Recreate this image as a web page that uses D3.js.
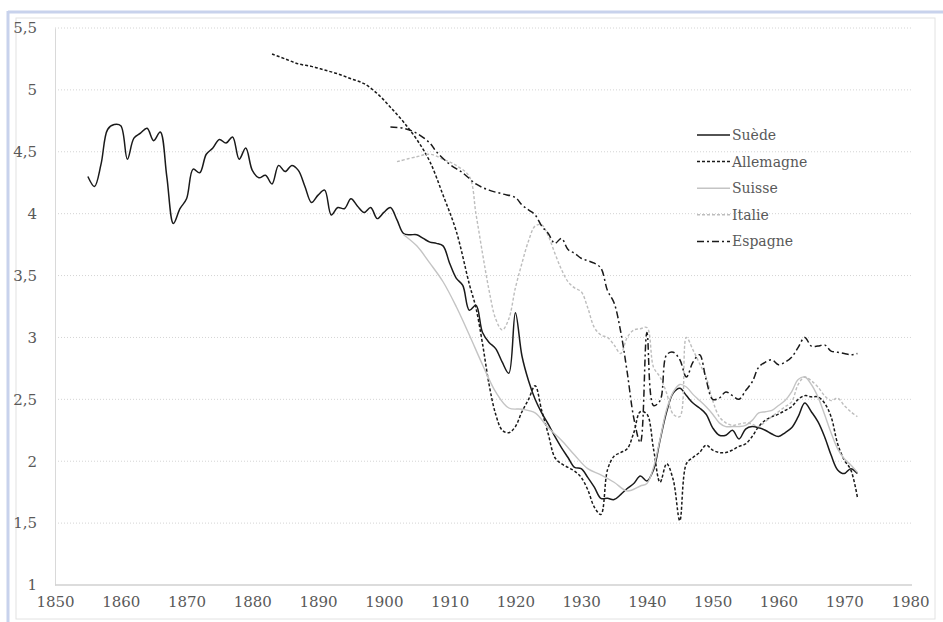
<!DOCTYPE html>
<html>
<head>
<meta charset="utf-8">
<script src="https://cdn.jsdelivr.net/npm/d3@7"></script>
<style>
  body { margin: 0; background: #fff; }
</style>
</head>
<body>
<svg></svg>
<script>
// Size of the SVG
var width = 943;
var height = 622;

// Series: [year, value]
var suede = [
  [1855,4.30],[1856,4.22],[1857,4.40],[1858,4.68],[1859,4.72],[1860,4.71],[1861,4.44],[1862,4.61],
  [1863,4.65],[1864,4.69],[1865,4.59],[1866,4.66],[1867,4.30],[1868,3.92],[1869,4.04],[1870,4.12],
  [1871,4.36],[1872,4.33],[1873,4.48],[1874,4.53],[1875,4.60],[1876,4.57],[1877,4.62],[1878,4.44],
  [1879,4.53],[1880,4.35],[1881,4.29],[1882,4.31],[1883,4.24],[1884,4.39],[1885,4.34],[1886,4.39],
  [1887,4.35],[1888,4.22],[1889,4.09],[1890,4.15],[1891,4.19],[1892,3.99],[1893,4.05],[1894,4.04],
  [1895,4.12],[1896,4.06],[1897,4.01],[1898,4.05],[1899,3.96],[1900,4.01],[1901,4.05],[1902,3.95],
  [1903,3.84],[1904,3.83],[1905,3.83],[1906,3.80],[1907,3.77],[1908,3.76],[1909,3.74],[1910,3.60],
  [1911,3.48],[1912,3.42],[1913,3.22],[1914,3.26],[1915,3.04],[1916,2.96],[1917,2.91],[1918,2.80],
  [1919,2.71],[1920,3.20],[1921,2.85],[1922,2.65],[1923,2.50],[1924,2.39],[1925,2.30],[1926,2.20],
  [1927,2.11],[1928,2.03],[1929,1.95],[1930,1.94],[1931,1.87],[1932,1.79],[1933,1.70],[1934,1.70],
  [1935,1.69],[1936,1.73],[1937,1.78],[1938,1.82],[1939,1.88],[1940,1.84],[1941,1.93],[1942,2.17],
  [1943,2.40],[1944,2.55],[1945,2.59],[1946,2.53],[1947,2.47],[1948,2.43],[1949,2.38],[1950,2.27],
  [1951,2.21],[1952,2.21],[1953,2.25],[1954,2.18],[1955,2.26],[1956,2.28],[1957,2.27],[1958,2.25],
  [1959,2.22],[1960,2.20],[1961,2.23],[1962,2.27],[1963,2.36],[1964,2.47],[1965,2.40],[1966,2.32],
  [1967,2.20],[1968,2.05],[1969,1.93],[1970,1.90],[1971,1.94],[1972,1.90]
];

var allemagne = [
  [1883,5.29],[1885,5.25],[1887,5.21],[1889,5.19],[1891,5.16],[1893,5.13],[1895,5.09],[1897,5.05],
  [1899,4.97],[1901,4.86],[1903,4.74],[1905,4.60],[1907,4.42],[1909,4.15],[1911,3.86],[1913,3.43],
  [1914,3.24],[1915,2.95],[1916,2.62],[1917,2.38],[1918,2.25],[1919,2.23],[1920,2.28],[1921,2.40],
  [1922,2.50],[1923,2.61],[1924,2.41],[1925,2.22],[1926,2.03],[1927,1.98],[1928,1.95],[1929,1.92],
  [1930,1.87],[1931,1.77],[1932,1.63],[1933,1.57],[1934,1.93],[1935,2.04],[1936,2.07],[1937,2.10],
  [1938,2.23],[1939,2.40],[1940,2.38],[1941,2.10],[1942,1.83],[1943,1.98],[1944,1.85],[1945,1.52],
  [1946,1.98],[1947,2.03],[1948,2.07],[1949,2.13],[1950,2.09],[1951,2.07],[1952,2.07],[1953,2.09],
  [1954,2.12],[1955,2.14],[1956,2.20],[1957,2.28],[1958,2.33],[1959,2.36],[1960,2.38],[1961,2.41],
  [1962,2.44],[1963,2.50],[1964,2.53],[1965,2.52],[1966,2.52],[1967,2.47],[1968,2.36],[1969,2.14],
  [1970,2.01],[1971,1.93],[1972,1.71]
];

var suisse = [
  [1903,3.83],[1905,3.74],[1907,3.60],[1909,3.45],[1911,3.25],[1913,3.02],[1915,2.78],[1917,2.56],
  [1919,2.43],[1921,2.42],[1923,2.39],[1925,2.27],[1927,2.17],[1929,2.05],[1931,1.94],[1933,1.89],
  [1935,1.83],[1937,1.76],[1939,1.80],[1940,1.82],[1941,1.95],[1942,2.18],[1943,2.42],[1944,2.56],
  [1945,2.62],[1946,2.60],[1947,2.54],[1948,2.49],[1949,2.44],[1950,2.38],[1951,2.31],[1952,2.28],
  [1953,2.28],[1954,2.28],[1955,2.29],[1956,2.33],[1957,2.39],[1958,2.40],[1959,2.41],[1960,2.45],
  [1961,2.49],[1962,2.56],[1963,2.66],[1964,2.68],[1965,2.62],[1966,2.52],[1967,2.38],[1968,2.23],
  [1969,2.10],[1970,2.02],[1971,1.97],[1972,1.91]
];

var italie = [
  [1902,4.42],[1905,4.46],[1907,4.48],[1909,4.44],[1911,4.39],[1913,4.30],[1914,4.00],[1915,3.68],
  [1916,3.38],[1917,3.15],[1918,3.06],[1919,3.15],[1920,3.40],[1921,3.60],[1922,3.78],[1923,3.90],
  [1924,3.91],[1925,3.82],[1926,3.68],[1927,3.55],[1928,3.45],[1929,3.40],[1930,3.37],[1931,3.24],
  [1932,3.08],[1933,3.02],[1934,3.00],[1935,2.94],[1936,2.87],[1937,3.00],[1938,3.06],[1939,3.07],
  [1940,3.08],[1941,2.76],[1942,2.68],[1943,2.55],[1944,2.38],[1945,2.36],[1946,3.00],[1947,2.90],
  [1948,2.79],[1949,2.68],[1950,2.49],[1951,2.36],[1952,2.31],[1953,2.29],[1954,2.30],[1955,2.31],
  [1956,2.30],[1957,2.28],[1958,2.32],[1959,2.36],[1960,2.40],[1961,2.44],[1962,2.48],[1963,2.62],
  [1964,2.68],[1965,2.65],[1966,2.60],[1967,2.53],[1968,2.49],[1969,2.51],[1970,2.45],[1971,2.40],
  [1972,2.36]
];

var espagne = [
  [1901,4.70],[1903,4.69],[1905,4.65],[1907,4.57],[1908,4.50],[1910,4.40],[1912,4.33],[1914,4.24],
  [1916,4.19],[1918,4.16],[1920,4.13],[1921,4.07],[1922,4.03],[1923,3.99],[1924,3.90],[1925,3.84],
  [1926,3.76],[1927,3.80],[1928,3.71],[1929,3.68],[1930,3.64],[1931,3.62],[1932,3.60],[1933,3.56],
  [1934,3.38],[1935,3.28],[1936,3.05],[1937,2.72],[1938,2.35],[1939,2.15],[1940,3.04],[1941,2.45],
  [1942,2.49],[1943,2.86],[1944,2.88],[1945,2.82],[1946,2.68],[1947,2.80],[1948,2.86],[1949,2.66],
  [1950,2.50],[1951,2.51],[1952,2.56],[1953,2.53],[1954,2.50],[1955,2.57],[1956,2.64],[1957,2.76],
  [1958,2.80],[1959,2.82],[1960,2.78],[1961,2.80],[1962,2.84],[1963,2.92],[1964,3.00],[1965,2.93],
  [1966,2.93],[1967,2.94],[1968,2.89],[1969,2.88],[1970,2.87],[1971,2.86],[1972,2.87]
];

var seriesNames = ["Suède", "Allemagne", "Suisse", "Italie", "Espagne"];
var xTicks = [1850, 1860, 1870, 1880, 1890, 1900, 1910, 1920, 1930, 1940, 1950, 1960, 1970, 1980];
var yTicks = [1, 1.5, 2, 2.5, 3, 3.5, 4, 4.5, 5, 5.5];

// Line styles per series
var styles = [
  { data: suede,     color: "#1a1a1a", dash: null,        w: 1.5 },
  { data: allemagne, color: "#1a1a1a", dash: "3,2",       w: 1.5 },
  { data: suisse,    color: "#c4c4c4", dash: null,        w: 1.4 },
  { data: italie,    color: "#bdbdbd", dash: "3,2",       w: 1.4 },
  { data: espagne,   color: "#1a1a1a", dash: "7,3,2,3",   w: 1.5 }
];

var serif = '"DejaVu Serif", "Liberation Serif", serif';

var svg = d3.select("svg").attr("width", width).attr("height", height);

// Frame like the spreadsheet object
svg.append("rect").attr("x", 16).attr("y", 18).attr("width", 919).attr("height", 601)
  .attr("fill", "#fff").attr("stroke", "#e2e2e2");
svg.append("line").attr("x1", 8).attr("x2", 943).attr("y1", 12).attr("y2", 12)
  .attr("stroke", "#c8d2ec").attr("stroke-width", 3);
svg.append("line").attr("x1", 8).attr("x2", 8).attr("y1", 11).attr("y2", 622)
  .attr("stroke", "#c8d2ec").attr("stroke-width", 3);

// Scales
var xScale = d3.scaleLinear().domain([1850, 1980]).range([55, 910]);
var yScale = d3.scaleLinear().domain([1, 5.5]).range([585, 28]);

// Gridlines
svg.append("g").selectAll("line").data(yTicks.slice(1)).enter().append("line")
  .attr("x1", 55).attr("x2", 912)
  .attr("y1", d => yScale(d)).attr("y2", d => yScale(d))
  .attr("stroke", "#d4d4d4").attr("stroke-dasharray", "1,2");

// Axes
var fmt = d => String(d).replace(".", ",");
var y_Axis = d3.axisLeft(yScale).tickValues(yTicks).tickFormat(fmt).tickSize(0).tickPadding(18);
var x_Axis = d3.axisBottom(xScale).tickValues(xTicks).tickFormat(d3.format("d")).tickSize(0).tickPadding(11);

var gy = svg.append("g").attr("transform", "translate(55,0)").call(y_Axis);
gy.attr("font-family", serif).attr("font-size", 15);
gy.select(".domain").attr("stroke", "#d9d9d9");
gy.selectAll("text").attr("fill", "#595959");

var gx = svg.append("g").attr("transform", "translate(0,585)").call(x_Axis);
gx.attr("font-family", serif).attr("font-size", 15);
gx.select(".domain").attr("stroke", "#d0d0d0").attr("stroke-width", 1.5).attr("d", "M55,0H912");
gx.selectAll("text").attr("fill", "#595959");

// Lines
var line = d3.line()
  .x(d => xScale(d[0]))
  .y(d => yScale(d[1]))
  .curve(d3.curveCatmullRom.alpha(0.5));

styles.forEach(s => {
  svg.append("path").datum(s.data)
    .attr("d", line)
    .attr("fill", "none")
    .attr("stroke", s.color)
    .attr("stroke-width", s.w)
    .attr("stroke-dasharray", s.dash);
});

// Legend
var legend = svg.append("g").attr("transform", "translate(697,135)")
  .attr("font-family", serif).attr("font-size", 14);
seriesNames.forEach((name, i) => {
  var s = styles[i];
  var g = legend.append("g").attr("transform", "translate(0," + (i * 26.6) + ")");
  g.append("line").attr("x1", 0).attr("x2", 33).attr("y1", 0).attr("y2", 0)
    .attr("stroke", s.color).attr("stroke-width", s.w).attr("stroke-dasharray", s.dash);
  g.append("text").attr("x", 35).attr("y", 5).text(name).attr("fill", "#595959");
});
</script>
</body>
</html>
